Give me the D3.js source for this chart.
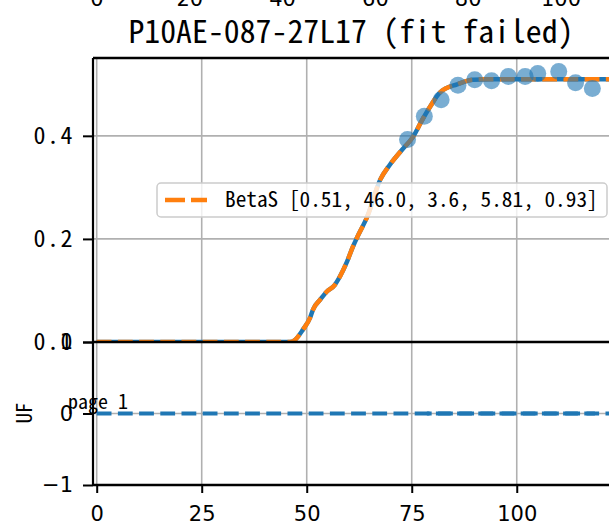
<!DOCTYPE html>
<html><head><meta charset="utf-8">
<script src="https://cdn.jsdelivr.net/npm/d3@7"></script>
<style>
html,body{margin:0;padding:0;background:#fff;overflow:hidden}
svg{display:block}
</style></head>
<body>
<svg id="chart" width="609" height="521"></svg>
<script>
// ---------- data ----------
const titleText = "P10AE-087-27L17 (fit failed)";
const legendLabel = "BetaS [0.51, 46.0, 3.6, 5.81, 0.93]";
const topTicks = [0, 20, 40, 60, 80, 100];
const mainYTicks = [0, 0.2, 0.4];
const lowerXTicks = [0, 25, 50, 75, 100];
const lowerYTicks = [-1, 0, 1];
const curveX = [0, 46, 47.2, 49.1, 50.8, 51.5, 53.2, 54.8, 56.7, 57.9, 59.6, 61.0, 62.0, 64.4, 67.5, 69.8, 72.7, 75.3, 77.5, 79.4, 81.7, 85.8, 89.6, 93.7, 125];
const curveY = [0, 0, 0.004, 0.024, 0.047, 0.063, 0.082, 0.098, 0.111, 0.127, 0.156, 0.185, 0.203, 0.243, 0.315, 0.344, 0.373, 0.398, 0.431, 0.457, 0.484, 0.500, 0.509, 0.510, 0.510];
const pointX = [74, 78, 82, 86, 90, 94, 98, 102, 105, 110, 114, 118];
const pointY = [0.393, 0.438, 0.470, 0.498, 0.509, 0.507, 0.515, 0.515, 0.521, 0.525, 0.503, 0.492];
const ufX1 = [0, 125];
const ufY1 = [0, 0];
const ufX2 = [78.6, 118.6];
const ufY2 = [0, 0];

// ---------- layout ----------
const CJK = '"Noto Sans Mono CJK SC","Noto Sans CJK SC","Noto Sans CJK JP",sans-serif';
const LAT = '"DejaVu Sans",sans-serif';
const BLUE = "#1f77b4", ORANGE = "#ff7f0e", GRID = "#b0b0b0";
const L = 93, R = 610, mainTop = 58, mainBot = 342, lowBot = 485;

const svg = d3.select("#chart");
const x = d3.scaleLinear().domain([-0.88, 122.2]).range([L, R]);
const yMain = d3.scaleLinear().domain([0, 0.551]).range([mainBot, mainTop]);
const yLow = d3.scaleLinear().domain([-1, 1]).range([lowBot, mainBot]);
const xTop = d3.scaleLinear().domain([0, 100]).range([97, 561]);

// top cut-off tick labels from subplot above
svg.append("g").selectAll("text").data(topTicks).join("text")
  .attr("x", d => xTop(d)).attr("y", 6).attr("text-anchor", "middle")
  .style("font-family", LAT).style("font-size", "21px").text(d => d);

// title
svg.append("text").attr("x", 351).attr("y", 43).attr("text-anchor", "middle")
  .style("font-family", CJK).style("font-size", "31.8px").text(titleText);

// clips
svg.append("clipPath").attr("id", "cMain").append("rect")
  .attr("x", L).attr("y", mainTop).attr("width", R - L).attr("height", mainBot - mainTop);
svg.append("clipPath").attr("id", "cLow").append("rect")
  .attr("x", L).attr("y", mainBot).attr("width", R - L).attr("height", lowBot - mainBot);

// ---------- main axes ----------
const gM = svg.append("g").attr("clip-path", "url(#cMain)");
gM.selectAll("line.vg").data(lowerXTicks).join("line").attr("class", "vg")
  .attr("x1", d => x(d)).attr("x2", d => x(d)).attr("y1", mainTop).attr("y2", mainBot)
  .attr("stroke", GRID).attr("stroke-width", 1.6);
gM.selectAll("line.hg").data(mainYTicks).join("line").attr("class", "hg")
  .attr("x1", L).attr("x2", R).attr("y1", d => yMain(d)).attr("y2", d => yMain(d))
  .attr("stroke", GRID).attr("stroke-width", 1.6);

const curveData = curveX.map((v, i) => [v, curveY[i]]);
const line = d3.line().x(d => x(d[0])).y(d => yMain(d[1])).curve(d3.curveMonotoneX);
gM.append("path").datum(curveData).attr("d", line).attr("fill", "none")
  .attr("stroke", BLUE).attr("stroke-width", 4.5);
gM.append("path").datum(curveData).attr("d", line).attr("fill", "none")
  .attr("stroke", ORANGE).attr("stroke-width", 4.5).attr("stroke-dasharray", "14.8,6.4");
gM.selectAll("circle").data(pointX.map((v, i) => [v, pointY[i]])).join("circle")
  .attr("cx", d => x(d[0])).attr("cy", d => yMain(d[1])).attr("r", 8.5)
  .attr("fill", BLUE).attr("fill-opacity", 0.6);

// main y axis
const axM = svg.append("g").attr("transform", `translate(${L},0)`)
  .call(d3.axisLeft(yMain).tickValues(mainYTicks).tickFormat(d3.format(".1f")).tickSize(10).tickPadding(9));
axM.select(".domain").remove();
axM.selectAll(".tick line").attr("stroke", "#000").attr("stroke-width", 2);
axM.selectAll(".tick text").style("font-family", CJK).style("font-size", "24px")
  .style("letter-spacing", "1.5px").attr("fill", "#000");

// legend
const lg = svg.append("g");
lg.append("rect").attr("x", 157).attr("y", 183).attr("width", 450).attr("height", 34)
  .attr("rx", 4).attr("fill", "#fff").attr("fill-opacity", 0.8).attr("stroke", "#cccccc").attr("stroke-width", 1.5);
lg.append("line").attr("x1", 165).attr("x2", 207).attr("y1", 200).attr("y2", 200)
  .attr("stroke", ORANGE).attr("stroke-width", 4.5).attr("stroke-dasharray", "20,6");
lg.append("text").attr("x", 225).attr("y", 207).style("font-family", CJK).style("font-size", "21.3px")
  .text(legendLabel);

// ---------- lower axes ----------
const gL = svg.append("g").attr("clip-path", "url(#cLow)");
gL.selectAll("line.vg").data(lowerXTicks).join("line").attr("class", "vg")
  .attr("x1", d => x(d)).attr("x2", d => x(d)).attr("y1", mainBot).attr("y2", lowBot)
  .attr("stroke", GRID).attr("stroke-width", 1.6);
gL.selectAll("line.hg").data(lowerYTicks).join("line").attr("class", "hg")
  .attr("x1", L).attr("x2", R).attr("y1", d => yLow(d)).attr("y2", d => yLow(d))
  .attr("stroke", GRID).attr("stroke-width", 1.6);
const lineL = d3.line().x(d => x(d[0])).y(d => yLow(d[1]));
gL.append("path").datum(ufX1.map((v, i) => [v, ufY1[i]])).attr("d", lineL).attr("fill", "none")
  .attr("stroke", BLUE).attr("stroke-width", 4.2).attr("stroke-dasharray", "14.8,6.4");
gL.append("path").datum(ufX2.map((v, i) => [v, ufY2[i]])).attr("d", lineL).attr("fill", "none")
  .attr("stroke", BLUE).attr("stroke-width", 4.2).attr("stroke-dasharray", "14.8,6.4").attr("stroke-dashoffset", 10);

const axLX = svg.append("g").attr("transform", `translate(0,${lowBot})`)
  .call(d3.axisBottom(x).tickValues(lowerXTicks).tickSize(8).tickPadding(13));
axLX.select(".domain").remove();
axLX.selectAll(".tick line").attr("stroke", "#000").attr("stroke-width", 2);
axLX.selectAll(".tick text").style("font-family", LAT).style("font-size", "21px").attr("fill", "#000");

const axLY = svg.append("g").attr("transform", `translate(${L},0)`)
  .call(d3.axisLeft(yLow).tickValues(lowerYTicks).tickFormat(d => d < 0 ? "\u2212" + Math.abs(d) : String(d)).tickSize(10).tickPadding(10));
axLY.select(".domain").remove();
axLY.selectAll(".tick line").attr("stroke", "#000").attr("stroke-width", 2);
axLY.selectAll(".tick text").style("font-family", LAT).style("font-size", "21px").attr("fill", "#000");

// spines
svg.append("line").attr("x1", L).attr("x2", R).attr("y1", mainTop).attr("y2", mainTop).attr("stroke", "#000").attr("stroke-width", 2.5);
svg.append("line").attr("x1", L).attr("x2", R).attr("y1", mainBot).attr("y2", mainBot).attr("stroke", "#000").attr("stroke-width", 2.5);
svg.append("line").attr("x1", L).attr("x2", R).attr("y1", lowBot).attr("y2", lowBot).attr("stroke", "#000").attr("stroke-width", 2.5);
svg.append("line").attr("x1", L).attr("x2", L).attr("y1", mainTop).attr("y2", lowBot).attr("stroke", "#000").attr("stroke-width", 2.2);

// labels
svg.append("text").attr("transform", "translate(32,413) rotate(-90)").attr("text-anchor", "middle")
  .style("font-family", CJK).style("font-size", "21px").text("UF");
svg.append("text").attr("x", 68).attr("y", 409).style("font-family", CJK).style("font-size", "20px").text("page 1");
</script>
</body></html>
